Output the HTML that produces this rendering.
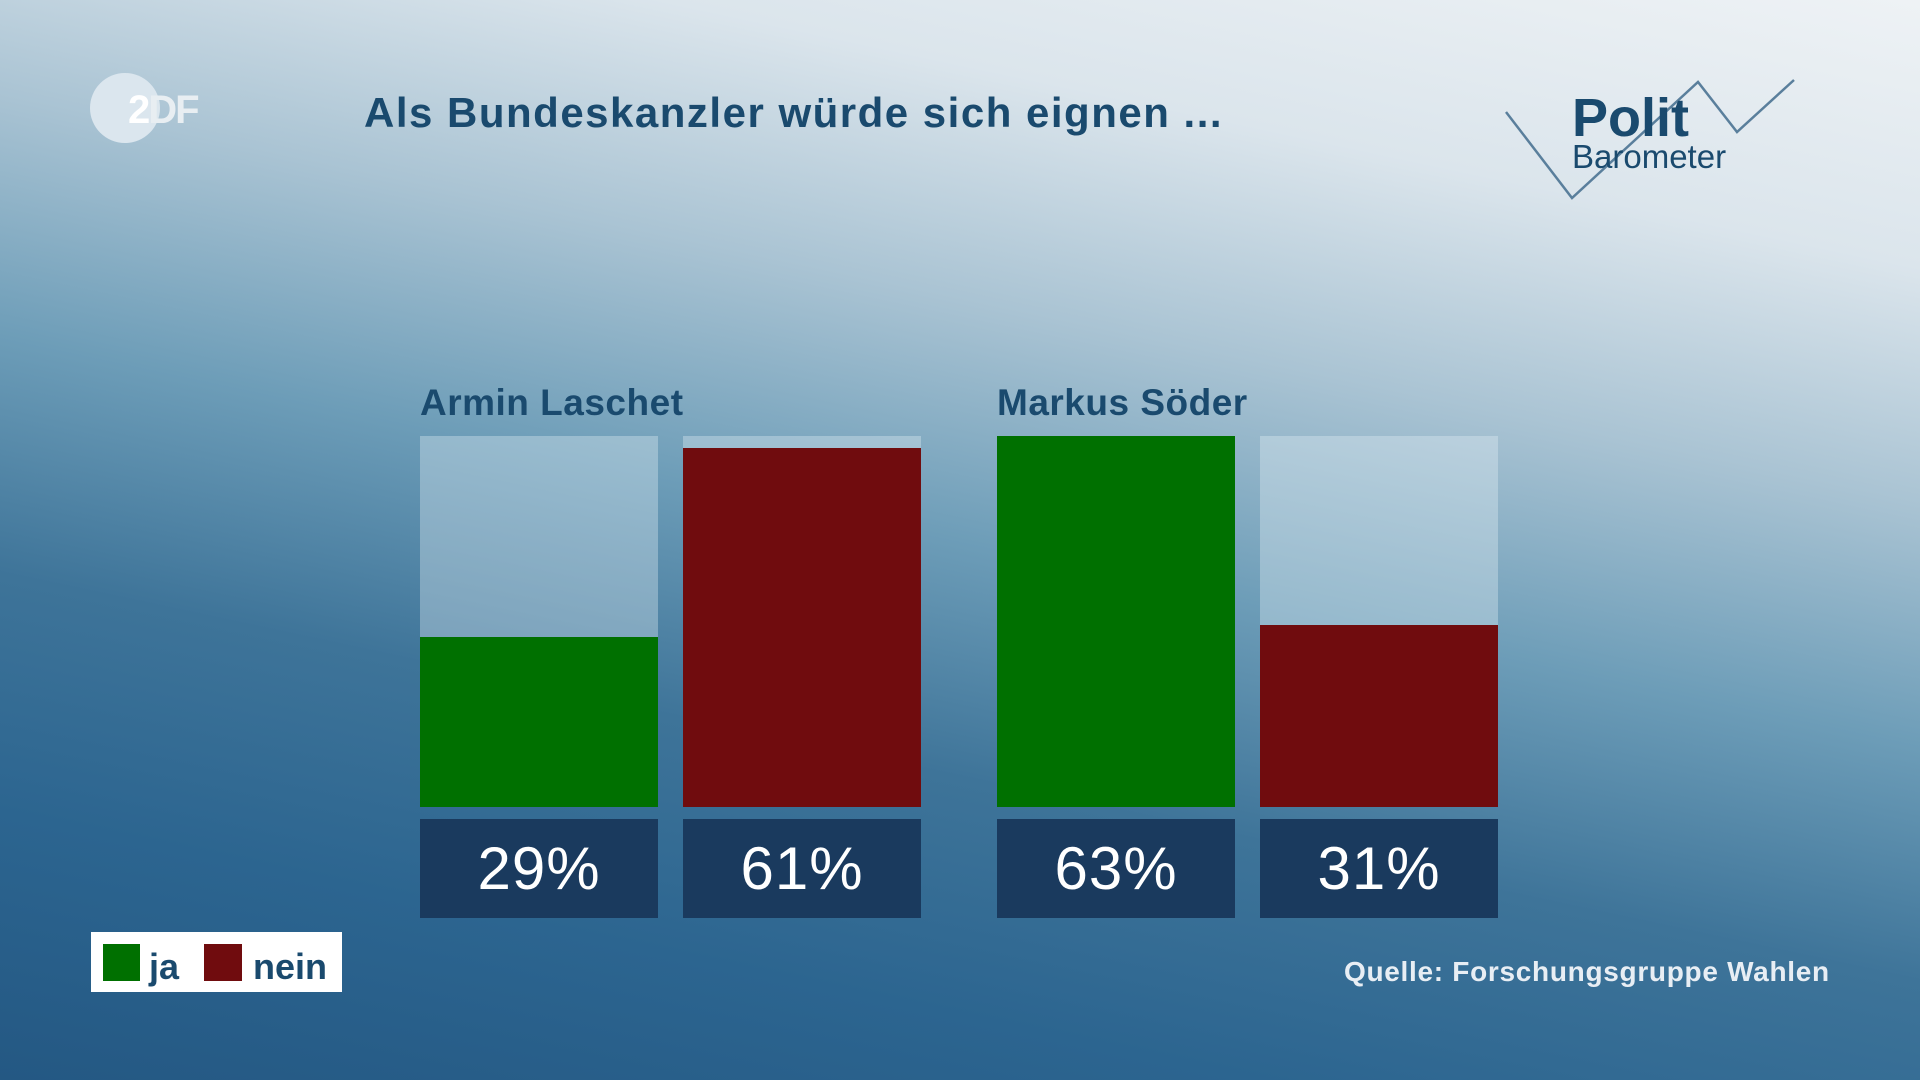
<!DOCTYPE html>
<html><head><meta charset="utf-8"><style>
*{margin:0;padding:0;box-sizing:border-box}
body{width:1920px;height:1080px;overflow:hidden;position:relative;font-family:"Liberation Sans",sans-serif;
background:linear-gradient(192deg,#eef2f5 0%,#dbe5ec 18%,#a9c3d3 34%,#6d9db8 50%,#3e7499 66%,#2c6590 82%,#245883 100%);}
.a{position:absolute}
.t{color:#1a4a6e;font-weight:bold}
.e{background:rgba(230,240,245,0.35)}
.v{background:#1a3a5e;color:#fff;font-size:60px;text-align:center;line-height:99px;height:99px;top:819px;width:238px;letter-spacing:1px}
</style></head><body>
<div class="a" style="left:90px;top:73px;width:70px;height:70px;border-radius:50%;background:#dbe6ee"></div>
<div class="a" style="left:128px;top:88px;font-size:40px;font-weight:bold;color:#fff;letter-spacing:-2px">2<span style="color:#e8eef2">DF</span></div>
<div class="a t" style="left:364px;top:89px;font-size:42px;letter-spacing:1.5px">Als Bundeskanzler würde sich eignen ...</div>
<svg class="a" style="left:1500px;top:75px" width="300" height="130"><polyline points="6,37 72,123 198,7 237,57 294,5" fill="none" stroke="#5a7f9c" stroke-width="2.5"/></svg>
<div class="a t" style="left:1572px;top:90px;font-size:54px;line-height:56px">Polit</div>
<div class="a" style="left:1572px;top:138px;font-size:33px;color:#1a4a6e">Barometer</div>
<div class="a t" style="left:420px;top:382px;font-size:37px;letter-spacing:0.5px">Armin Laschet</div>
<div class="a t" style="left:997px;top:382px;font-size:37px;letter-spacing:0.5px">Markus Söder</div>
<div class="a e" style="left:420px;top:436px;width:238px;height:201px"></div>
<div class="a" style="left:420px;top:637px;width:238px;height:170px;background:#007000"></div>
<div class="a e" style="left:683px;top:436px;width:238px;height:12px"></div>
<div class="a" style="left:683px;top:448px;width:238px;height:359px;background:#700c0e"></div>
<div class="a" style="left:997px;top:436px;width:238px;height:371px;background:#007000"></div>
<div class="a e" style="left:1260px;top:436px;width:238px;height:189px"></div>
<div class="a" style="left:1260px;top:625px;width:238px;height:182px;background:#700c0e"></div>
<div class="a v" style="left:420px">29%</div>
<div class="a v" style="left:683px">61%</div>
<div class="a v" style="left:997px">63%</div>
<div class="a v" style="left:1260px">31%</div>
<div class="a" style="left:91px;top:932px;width:251px;height:60px;background:#fff"></div>
<div class="a" style="left:103px;top:944px;width:37px;height:37px;background:#007000"></div>
<div class="a t" style="left:149px;top:946px;font-size:36px">ja</div>
<div class="a" style="left:204px;top:944px;width:38px;height:37px;background:#700c0e"></div>
<div class="a t" style="left:253px;top:946px;font-size:36px">nein</div>
<div class="a" style="left:1344px;top:956px;font-size:28px;font-weight:bold;color:#e8eef4;letter-spacing:0.7px">Quelle: Forschungsgruppe Wahlen</div>
</body></html>
